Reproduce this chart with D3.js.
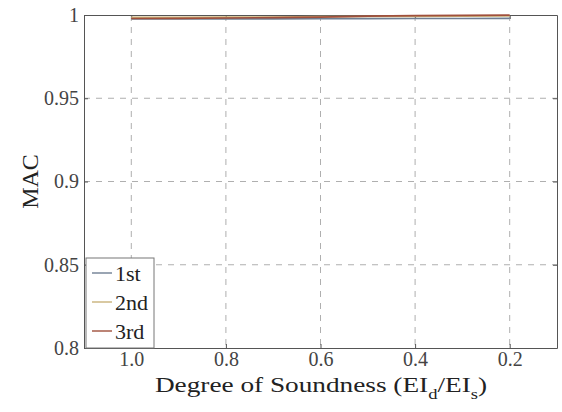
<!DOCTYPE html>
<html>
<head>
<meta charset="utf-8">
<script src="https://cdn.jsdelivr.net/npm/d3@7"></script>
<style>
  body { margin: 0; background: #fff; }
  svg { display: block; font-family: "Liberation Serif", "DejaVu Serif", serif; }
</style>
</head>
<body>
<svg id="chart" width="562" height="412"></svg>
<script>
// degree of soundness (EId/EIs)
const soundness = [1.0, 0.9, 0.8, 0.7, 0.6, 0.5, 0.4, 0.3, 0.2];
const mac1st = [0.9976, 0.9976, 0.9977, 0.9977, 0.9978, 0.9978, 0.9979, 0.9979, 0.9980];
const mac2nd = [0.9986, 0.9986, 0.9987, 0.9988, 0.9990, 0.9991, 0.9992, 0.9993, 0.9994];
const mac3rd = [0.9979, 0.9980, 0.9982, 0.9984, 0.9987, 0.9993, 0.9996, 0.9998, 0.9999];
const xTicks = [1.0, 0.8, 0.6, 0.4, 0.2];
const yTicks = [0.8, 0.85, 0.9, 0.95, 1];
const seriesNames = ['1st', '2nd', '3rd'];
const seriesColors = ['#6f7f93', '#c9b27a', '#a0503c'];

const svg = d3.select('#chart');
const L = 84, R = 557, T = 15, B = 348;

const x = d3.scaleLinear().domain([1.1, 0.1]).range([L, R]);
const y = d3.scaleLinear().domain([0.8, 1]).range([B, T]);

// grid
svg.append('g')
    .selectAll('line')
    .data(xTicks)
    .join('line')
    .attr('x1', d => x(d)).attr('x2', d => x(d))
    .attr('y1', T).attr('y2', B)
    .attr('stroke', '#9a9a9a')
    .attr('stroke-width', 0.8)
    .attr('stroke-dasharray', '6,6');

svg.append('g')
    .selectAll('line')
    .data(yTicks.filter(d => d > 0.8 && d < 1))
    .join('line')
    .attr('x1', L).attr('x2', R)
    .attr('y1', d => y(d)).attr('y2', d => y(d))
    .attr('stroke', '#9a9a9a')
    .attr('stroke-width', 0.8)
    .attr('stroke-dasharray', '6,6');

// axes
const xAxis = d3.axisBottom(x).tickValues(xTicks).tickFormat(d3.format('.1f'))
    .tickSizeInner(-4).tickSizeOuter(0).tickPadding(4);
const yAxis = d3.axisLeft(y).tickValues(yTicks).tickFormat(d => d === 1 ? '1' : String(d))
    .tickSizeInner(-4).tickSizeOuter(0).tickPadding(5);

const gx = svg.append('g').attr('transform', 'translate(0,' + B + ')').call(xAxis);
const gy = svg.append('g').attr('transform', 'translate(' + L + ',0)').call(yAxis);
const gx2 = svg.append('g').attr('transform', 'translate(0,' + T + ')')
    .call(d3.axisTop(x).tickValues(xTicks).tickFormat('').tickSizeInner(-4).tickSizeOuter(0));
const gy2 = svg.append('g').attr('transform', 'translate(' + R + ',0)')
    .call(d3.axisRight(y).tickValues(yTicks).tickFormat('').tickSizeInner(-4).tickSizeOuter(0));

[gx, gy, gx2, gy2].forEach(function (g) {
    g.attr('font-family', null);
    g.select('.domain').attr('stroke', '#555').attr('stroke-width', 1);
    g.selectAll('.tick line').attr('stroke', '#555');
    g.selectAll('.tick text')
        .attr('fill', '#444')
        .style('font-family', '"Liberation Serif", serif')
        .style('font-size', '20px');
});

// lines
const line = d3.line().x((d, i) => x(soundness[i])).y(d => y(d));
[mac1st, mac2nd, mac3rd].forEach(function (vals, i) {
    svg.append('path')
        .datum(vals)
        .attr('d', line)
        .attr('fill', 'none')
        .attr('stroke', seriesColors[i])
        .attr('stroke-width', 1.6);
});

// axis labels
svg.append('text')
    .attr('transform', 'translate(38,' + ((T + B) / 2) + ') rotate(-90)')
    .attr('text-anchor', 'middle')
    .attr('fill', '#222')
    .style('font-size', '24px')
    .text('MAC');

const xl = svg.append('text')
    .attr('transform', 'translate(321,392) scale(1.24,1)')
    .attr('text-anchor', 'middle')
    .attr('fill', '#222')
    .style('font-size', '22px');
xl.append('tspan').text('Degree of Soundness (EI');
xl.append('tspan').attr('dy', 7).style('font-size', '15px').text('d');
xl.append('tspan').attr('dy', -7).text('/EI');
xl.append('tspan').attr('dy', 7).style('font-size', '15px').text('s');
xl.append('tspan').attr('dy', -7).text(')');

// legend
const lg = svg.append('g').attr('transform', 'translate(86,258)');
lg.append('rect')
    .attr('width', 68).attr('height', 90)
    .attr('fill', '#fff')
    .attr('stroke', '#777')
    .attr('stroke-width', 1);
seriesNames.forEach(function (name, i) {
    const yy = 15 + i * 29;
    lg.append('line')
        .attr('x1', 6).attr('x2', 26)
        .attr('y1', yy).attr('y2', yy)
        .attr('stroke', seriesColors[i])
        .attr('stroke-width', 1.4);
    lg.append('text')
        .attr('x', 29).attr('y', yy + 8)
        .attr('fill', '#222')
        .style('font-size', '22px')
        .text(name);
});
</script>
</body>
</html>
